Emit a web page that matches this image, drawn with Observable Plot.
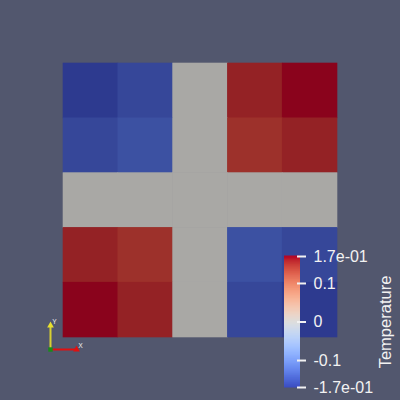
<!DOCTYPE html>
<html><head><meta charset="utf-8">
<script src="https://cdn.jsdelivr.net/npm/d3@7"></script>
<script src="https://cdn.jsdelivr.net/npm/@observablehq/plot@0.6"></script>
<style>
html,body{margin:0;padding:0;background:#52576e;width:400px;height:400px;overflow:hidden;}
#wrap{position:relative;width:400px;height:400px;}
#wrap svg{position:absolute;left:0;top:0;background:transparent;}
</style></head>
<body><div id="wrap"></div>
<script>
// Grid cell values (rows top->bottom, columns left->right)
const rowIds = [0, 1, 2, 3, 4];
const colIds = [0, 1, 2, 3, 4];
const row0 = [-0.17, -0.157, 0, 0.157, 0.17];
const row1 = [-0.157, -0.147, 0, 0.147, 0.157];
const row2 = [0, 0, 0, 0, 0];
const row3 = [0.157, 0.147, 0, -0.147, -0.157];
const row4 = [0.17, 0.157, 0, -0.157, -0.17];
const rows = [row0, row1, row2, row3, row4];

// Color bar
const colorDomain = [-0.17, 0.17];
const barTicks = [0.17, 0.1, 0, -0.1, -0.17];
const barTickLabels = ["1.7e-01", "0.1", "0", "-0.1", "-1.7e-01"];
const barTitle = "Temperature";

// Orientation axes triad
const triadAxes = ["X", "Y"];
const triadDx = [1, 0];
const triadDy = [0, 1];

// ParaView "Cool to Warm" color table
const coolWarm = ["#3b4cc0","#445acc","#4d68d7","#5775e1","#6282ea","#6c8ef1","#779af7","#82a5fb","#8db0fe","#98b9ff","#a3c2ff","#aec9fd","#b8d0f9","#c2d5f4","#ccd9ee","#d5dbe6","#dddddd","#e5d8d1","#ecd3c5","#f1ccb9","#f5c4ad","#f7bba0","#f7b194","#f7a687","#f49a7b","#f18d6f","#ec7f63","#e57059","#de604d","#d55042","#cb3e38","#c0282f","#b40426"];
const cwInterp = d3.piecewise(d3.interpolateRgb, coolWarm);
const lit = t => { const c = d3.rgb(cwInterp(t)); return d3.rgb(c.r*0.765, c.g*0.76, c.b*0.745).formatHex(); };

const cells = [];
rowIds.forEach(r => colIds.forEach(c => cells.push({row: r, col: c, value: rows[r][c]})));

const wrap = document.getElementById("wrap");

const main = Plot.plot({
  width: 400, height: 400,
  marginTop: 63, marginLeft: 63, marginRight: 63, marginBottom: 63,
  x: {type: "band", domain: colIds, padding: 0, round: false, axis: null},
  y: {type: "band", domain: rowIds, padding: 0, round: false, axis: null},
  color: {type: "linear", domain: colorDomain, interpolate: lit},
  style: {background: "transparent"},
  marks: [
    Plot.cell(cells, {x: "col", y: "row", fill: "value", inset: -0.3})
  ]
});
wrap.appendChild(main);

// Color bar overlay
const barSlices = d3.range(0, 200).map(i => {
  const a = colorDomain[0] + (colorDomain[1]-colorDomain[0]) * i / 200;
  const b = colorDomain[0] + (colorDomain[1]-colorDomain[0]) * (i+1) / 200;
  return {y1: a, y2: b, v: (a+b)/2};
});
const labelMap = new Map(barTicks.map((t, i) => [t, barTickLabels[i]]));
const bar = Plot.plot({
  width: 400, height: 400,
  marginLeft: 284, marginRight: 104, marginTop: 256, marginBottom: 13,
  x: {type: "linear", domain: [0, 12], axis: null},
  y: {type: "linear", domain: colorDomain, axis: null},
  color: {type: "linear", domain: colorDomain, interpolate: cwInterp},
  style: {background: "transparent", color: "#f2f2f2", fontFamily: "Liberation Sans, Arial, sans-serif"},
  marks: [
    Plot.rectY(barSlices, {x1: 0, x2: 16, y1: "y1", y2: "y2", fill: "v", insetTop: -0.5, insetBottom: -0.5}),
    Plot.axisY(barTicks, {anchor: "right", tickSize: 9, tickPadding: 8, tickFormat: d => labelMap.get(d), fontSize: 16, stroke: "#f2f2f2", strokeWidth: 2, fill: "#f2f2f2", label: null}),
    Plot.text([barTitle], {x: 101, y: 0, rotate: -90, fontSize: 16.5, fill: "#f2f2f2", textAnchor: "middle"})
  ]
});
wrap.appendChild(bar);

// Orientation triad
const triad = triadAxes.map((a, i) => ({axis: a, dx: triadDx[i], dy: triadDy[i]}));
const tri = Plot.plot({
  width: 400, height: 400,
  marginLeft: 50, marginRight: 324, marginTop: 325, marginBottom: 51,
  x: {domain: [0, 1], axis: null},
  y: {domain: [0, 1], axis: null},
  style: {background: "transparent"},
  marks: [
    Plot.link(triad, {x1: 0, y1: 0, x2: "dx", y2: "dy", stroke: d => d.axis === "X" ? "#e01010" : "#d8d030", strokeWidth: 2}),
    Plot.dot(triad, {x: "dx", y: "dy", r: 2.5, fill: d => d.axis === "X" ? "#e01010" : "#e8e030", symbol: "triangle"}),
    Plot.text(triad, {x: "dx", y: "dy", text: "axis", fontSize: 7, fill: "#f0f0f0", dy: -4, dx: 4}),
    Plot.dot([0], {x: 0, y: 0, r: 2.5, fill: "#1a8a1a", symbol: "square"})
  ]
});
wrap.appendChild(tri);
</script>
</body></html>
